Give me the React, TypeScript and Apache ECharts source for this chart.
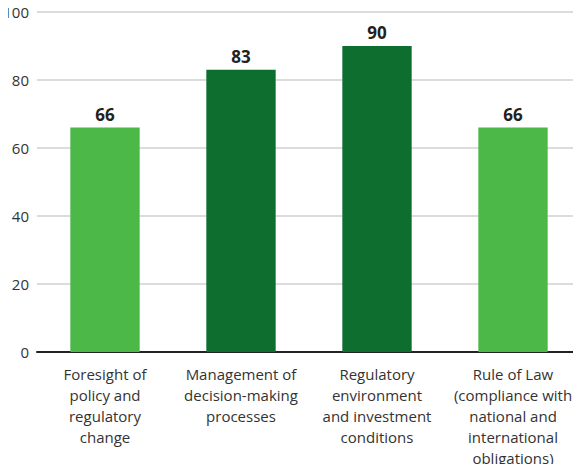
import React, { useEffect, useRef } from "react";
import * as echarts from "echarts";

const categories = [
  "Foresight of\npolicy and\nregulatory\nchange",
  "Management of\ndecision-making\nprocesses",
  "Regulatory\nenvironment\nand investment\nconditions",
  "Rule of Law\n(compliance with\nnational and\ninternational\nobligations)",
];
const values = [66, 83, 90, 66];
const barColors = ["#4cb848", "#0e6e2f", "#0e6e2f", "#4cb848"];
const yTicks = { min: 0, max: 100, interval: 20 };

const FONT = "'Open Sans', Lato, sans-serif";

export default function App() {
  const ref = useRef<HTMLDivElement>(null);
  useEffect(() => {
    if (!ref.current) return;
    const chart = echarts.init(ref.current, null, { renderer: "svg" });
    chart.setOption({
      animation: false,
      grid: { left: 37, right: 0, top: 12, bottom: 120, containLabel: false },
      xAxis: {
        type: "category",
        data: categories,
        axisLine: { lineStyle: { color: "#222", width: 2 } },
        axisTick: { show: false },
        axisLabel: {
          interval: 0,
          margin: 11,
          color: "#333",
          fontSize: 15,
          lineHeight: 21,
          fontFamily: FONT,
        },
      },
      yAxis: {
        type: "value",
        min: yTicks.min,
        max: yTicks.max,
        interval: yTicks.interval,
        axisLine: { show: false },
        axisTick: { show: false },
        axisLabel: {
          color: "#333",
          fontSize: 15,
          margin: 8,
          fontFamily: FONT,
        },
        splitLine: { lineStyle: { color: "#d0d0d0", width: 1.5 } },
      },
      series: [
        {
          type: "bar",
          barWidth: "51%",
          data: values.map((v, i) => ({ value: v, itemStyle: { color: barColors[i] } })),
          label: {
            show: true,
            position: "top",
            distance: 5,
            color: "#222",
            fontSize: 17,
            fontWeight: "bold",
            fontFamily: FONT,
          },
        },
      ],
    });
    return () => chart.dispose();
  }, []);
  return <div ref={ref} style={{ width: 581, height: 472, margin: -8 }} />;
}
